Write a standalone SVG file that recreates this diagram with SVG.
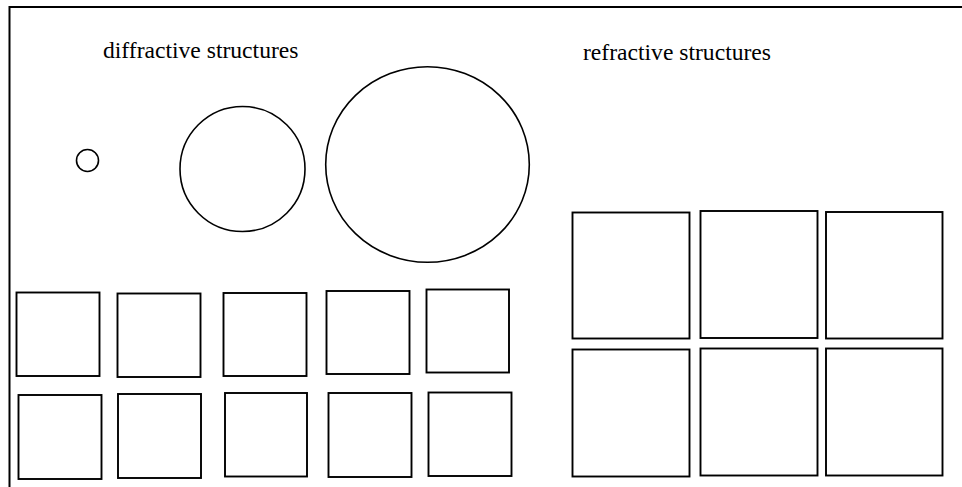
<svg xmlns="http://www.w3.org/2000/svg" width="962" height="487" viewBox="0 0 962 487">
<style>
.s{fill:none;stroke:#000;stroke-width:1.9}
.c{fill:none;stroke:#000;stroke-width:1.6}
.f{fill:none;stroke:#000;stroke-width:2}
.t{font-family:"Liberation Serif","Times New Roman",serif;font-size:23.6px;fill:#000}
</style>
<rect width="962" height="487" fill="#fff"/>
<path class="f" d="M9.5,487 V7 H962"/>
<g id="labels">
<text class="t" x="103" y="58">diffractive structures</text>
<text class="t" x="583" y="60">refractive structures</text>
</g>
<g id="circles">
<circle id="c1" class="c" cx="87.5" cy="160.5" r="11"/>
<circle id="c2" class="c" cx="242.5" cy="169" r="62.5"/>
<ellipse id="c3" class="c" cx="427.5" cy="164.5" rx="101.8" ry="97.8"/>
</g>
<g id="diffractive-squares">
<rect class="s" x="16.5" y="292.5" width="83" height="83.5"/>
<rect class="s" x="117.5" y="293.5" width="83" height="83.5"/>
<rect class="s" x="223.5" y="293" width="83" height="83"/>
<rect class="s" x="326.5" y="291" width="83" height="83"/>
<rect class="s" x="426.5" y="289.5" width="82.5" height="83"/>
<rect class="s" x="18.5" y="395" width="83" height="84"/>
<rect class="s" x="118" y="394" width="83" height="84"/>
<rect class="s" x="225" y="393" width="82" height="83.5"/>
<rect class="s" x="328.5" y="393" width="83" height="84"/>
<rect class="s" x="428.5" y="392.5" width="83" height="83.5"/>
</g>
<g id="refractive-squares">
<rect class="s" x="572.5" y="212.5" width="117" height="126"/>
<rect class="s" x="700.5" y="211" width="117" height="127"/>
<rect class="s" x="826" y="212" width="116.5" height="126.5"/>
<rect class="s" x="572.5" y="349.5" width="117" height="127"/>
<rect class="s" x="700.5" y="348.5" width="117" height="127"/>
<rect class="s" x="826" y="348.5" width="116.5" height="127"/>
</g>
</svg>
